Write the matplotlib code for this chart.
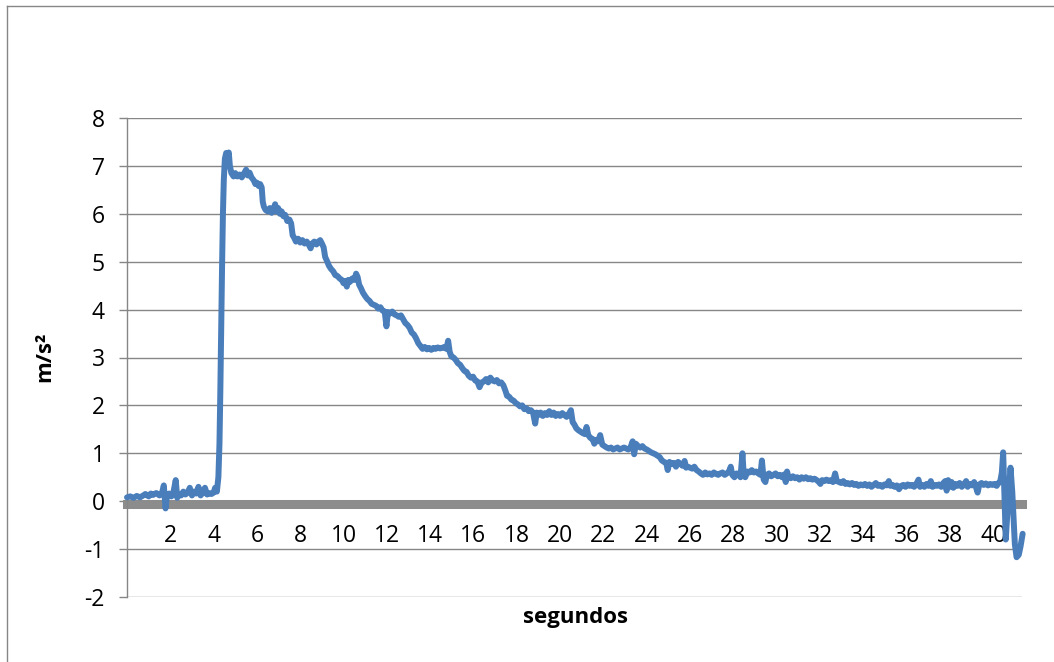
import matplotlib
matplotlib.use('Agg')
import matplotlib.pyplot as plt
from matplotlib.lines import Line2D

# tiempo (s) y aceleracion (m/s2)
tiempo = [
    0.00, 0.15, 0.30, 0.45, 0.60, 0.75, 0.85, 1.00, 1.10, 1.20, 1.35, 1.50, 1.62, 1.70, 1.78, 1.85,
    1.95, 2.05, 2.15, 2.25, 2.32, 2.40, 2.50, 2.60, 2.70, 2.80, 2.90, 3.00, 3.10, 3.20, 3.30, 3.40,
    3.50, 3.60, 3.70, 3.80, 3.90, 4.00, 4.07, 4.15,
    4.22, 4.27, 4.31, 4.35, 4.39, 4.43, 4.47, 4.52, 4.58, 4.65, 4.70, 4.75, 4.82, 4.92,
    5.00, 5.10, 5.20, 5.30, 5.40, 5.50, 5.58, 5.66, 5.75, 5.85, 5.93, 6.00, 6.08, 6.15, 6.22, 6.27,
    6.32, 6.40, 6.50, 6.60, 6.68, 6.76, 6.84, 6.90, 6.98, 7.06, 7.14, 7.22, 7.30, 7.40, 7.50, 7.58,
    7.65, 7.72, 7.80, 7.90, 8.00, 8.10, 8.20, 8.30, 8.40, 8.48, 8.55, 8.65, 8.75, 8.85, 8.92, 9.00,
    9.08, 9.15, 9.25, 9.32, 9.42, 9.52, 9.62, 9.72, 9.82, 9.92, 10.00, 10.08, 10.15, 10.22, 10.30,
    10.40, 10.50, 10.58, 10.65, 10.72, 10.80, 10.90, 11.00, 11.10, 11.20, 11.30, 11.40, 11.50,
    11.60, 11.70, 11.80, 11.90, 11.98, 12.05, 12.15, 12.25, 12.35, 12.45, 12.55, 12.65, 12.75,
    12.85, 12.95, 13.05, 13.15, 13.25, 13.35, 13.45, 13.55, 13.65, 13.75, 13.85, 13.95, 14.05,
    14.15, 14.25, 14.35, 14.45, 14.55, 14.65, 14.75, 14.83, 14.90, 14.98, 15.08, 15.18, 15.28,
    15.38, 15.48, 15.58, 15.68, 15.78, 15.88, 15.98, 16.08, 16.18, 16.28, 16.38, 16.48, 16.58,
    16.68, 16.78, 16.88, 16.98, 17.08, 17.18, 17.28, 17.38, 17.48, 17.55, 17.65, 17.75, 17.85,
    17.95, 18.05, 18.15, 18.25, 18.35, 18.45, 18.55, 18.65, 18.75, 18.85, 18.92, 19.00, 19.10,
    19.20, 19.30, 19.40, 19.50, 19.60, 19.70, 19.80, 19.90, 20.00, 20.10, 20.20, 20.30, 20.40,
    20.50, 20.58, 20.66, 20.75, 20.85, 20.95, 21.05, 21.15, 21.22, 21.30, 21.40, 21.50, 21.58,
    21.65, 21.75, 21.85, 21.95, 22.05, 22.15, 22.25, 22.35, 22.45, 22.55, 22.65, 22.75, 22.85,
    22.95, 23.05, 23.15, 23.25, 23.35, 23.42, 23.50, 23.60, 23.70, 23.80, 23.90, 24.00, 24.10,
    24.20, 24.30, 24.40, 24.50, 24.60, 24.70, 24.80, 24.90, 24.97, 25.05, 25.15, 25.25, 25.35,
    25.45, 25.55, 25.65, 25.75, 25.82, 25.90, 26.00, 26.10, 26.20, 26.30, 26.40, 26.50, 26.60,
    26.70, 26.80, 26.90, 27.00, 27.10, 27.20, 27.30, 27.40, 27.50, 27.60, 27.70, 27.80, 27.88,
    27.95, 28.05, 28.15, 28.25, 28.33, 28.42, 28.48, 28.55, 28.65, 28.75, 28.85, 28.95, 29.05,
    29.15, 29.25, 29.32, 29.40, 29.48, 29.55, 29.65, 29.75, 29.85, 29.95, 30.05, 30.15, 30.25,
    30.35, 30.42, 30.48, 30.55, 30.65, 30.75, 30.85, 30.95, 31.05, 31.15, 31.25, 31.35, 31.45,
    31.55, 31.65, 31.75, 31.85, 31.95, 32.02, 32.10, 32.20, 32.30, 32.40, 32.50, 32.60, 32.70,
    32.78, 32.88, 32.98, 33.08, 33.18, 33.28, 33.38, 33.48, 33.58, 33.68, 33.78, 33.88, 33.98,
    34.08, 34.18, 34.28, 34.38, 34.48, 34.58, 34.68, 34.78, 34.88, 34.98, 35.08, 35.18, 35.25,
    35.35, 35.45, 35.55, 35.65, 35.75, 35.85, 35.95, 36.05, 36.15, 36.25, 36.35, 36.45, 36.55,
    36.62, 36.72, 36.82, 36.92, 37.02, 37.12, 37.20, 37.30, 37.40, 37.50, 37.60, 37.70, 37.78,
    37.85, 37.92, 38.00, 38.08, 38.16, 38.25, 38.35, 38.45, 38.55, 38.65, 38.75, 38.82, 38.92,
    39.02, 39.12, 39.20, 39.28, 39.36, 39.46, 39.56, 39.66, 39.76, 39.86, 39.96, 40.06, 40.16,
    40.24, 40.32, 40.40, 40.46, 40.58, 40.66, 40.80, 40.88, 41.00, 41.08, 41.18, 41.26, 41.36,
]
aceleracion = [
    0.08, 0.10, 0.07, 0.11, 0.08, 0.12, 0.15, 0.10, 0.16, 0.13, 0.17, 0.12, 0.18, 0.33, -0.15, 0.12,
    0.16, 0.10, 0.20, 0.44, 0.07, 0.15, 0.12, 0.20, 0.14, 0.18, 0.28, 0.12, 0.20, 0.16, 0.30, 0.12,
    0.18, 0.28, 0.14, 0.17, 0.15, 0.18, 0.28, 0.20,
    0.50, 1.20, 2.30, 3.60, 4.90, 6.00, 6.70, 7.15, 7.27, 7.22, 7.28, 7.00, 6.85, 6.78,
    6.85, 6.78, 6.82, 6.76, 6.84, 6.92, 6.80, 6.86, 6.76, 6.70, 6.62, 6.65, 6.58, 6.62, 6.55, 6.25,
    6.15, 6.08, 6.05, 6.12, 6.02, 6.08, 6.20, 6.05, 6.12, 6.00, 6.05, 5.95, 5.98, 5.85, 5.88, 5.80,
    5.55, 5.50, 5.42, 5.48, 5.40, 5.45, 5.38, 5.42, 5.35, 5.28, 5.38, 5.42, 5.36, 5.42, 5.45, 5.38,
    5.30, 5.10, 5.00, 4.92, 4.85, 4.80, 4.72, 4.70, 4.65, 4.62, 4.55, 4.60, 4.48, 4.62, 4.58,
    4.65, 4.62, 4.75, 4.68, 4.52, 4.45, 4.35, 4.28, 4.22, 4.18, 4.12, 4.10, 4.08,
    4.02, 4.05, 3.98, 3.96, 3.65, 3.95, 3.92, 3.96, 3.90, 3.88, 3.85, 3.88, 3.80,
    3.72, 3.68, 3.62, 3.52, 3.48, 3.40, 3.30, 3.24, 3.18, 3.22, 3.17, 3.20, 3.16,
    3.20, 3.18, 3.21, 3.19, 3.20, 3.22, 3.18, 3.35, 3.12, 3.02, 3.00, 2.95, 2.88,
    2.85, 2.78, 2.72, 2.70, 2.62, 2.58, 2.60, 2.52, 2.50, 2.38, 2.48, 2.50, 2.55,
    2.48, 2.58, 2.52, 2.50, 2.53, 2.46, 2.48, 2.42, 2.30, 2.20, 2.18, 2.12, 2.10,
    2.05, 2.02, 1.98, 2.00, 1.92, 1.94, 1.88, 1.90, 1.85, 1.62, 1.85, 1.80, 1.85,
    1.78, 1.84, 1.80, 1.88, 1.80, 1.85, 1.78, 1.82, 1.78, 1.84, 1.80, 1.76, 1.82,
    1.90, 1.65, 1.60, 1.52, 1.48, 1.45, 1.42, 1.40, 1.55, 1.38, 1.32, 1.30, 1.20,
    1.28, 1.25, 1.38, 1.18, 1.15, 1.12, 1.10, 1.12, 1.08, 1.10, 1.12, 1.08, 1.10,
    1.12, 1.10, 1.08, 1.12, 1.25, 0.98, 1.20, 1.15, 1.12, 1.15, 1.10, 1.08, 1.05,
    1.02, 1.00, 0.98, 0.95, 0.92, 0.85, 0.82, 0.80, 0.65, 0.82, 0.78, 0.80, 0.72,
    0.82, 0.78, 0.74, 0.84, 0.70, 0.72, 0.70, 0.68, 0.72, 0.65, 0.62, 0.58, 0.55,
    0.60, 0.56, 0.58, 0.55, 0.60, 0.57, 0.55, 0.58, 0.60, 0.55, 0.58, 0.62, 0.72,
    0.55, 0.50, 0.58, 0.56, 0.50, 1.00, 0.55, 0.50, 0.62, 0.60, 0.65, 0.60, 0.62,
    0.58, 0.55, 0.85, 0.45, 0.40, 0.55, 0.58, 0.52, 0.55, 0.58, 0.52, 0.55, 0.50,
    0.56, 0.40, 0.62, 0.50, 0.48, 0.52, 0.48, 0.50, 0.45, 0.50, 0.47, 0.50, 0.46,
    0.48, 0.45, 0.47, 0.44, 0.40, 0.36, 0.44, 0.42, 0.45, 0.42, 0.44, 0.40, 0.58,
    0.42, 0.40, 0.38, 0.42, 0.36, 0.38, 0.35, 0.38, 0.34, 0.36, 0.32, 0.35, 0.33,
    0.36, 0.32, 0.35, 0.30, 0.34, 0.38, 0.32, 0.34, 0.30, 0.35, 0.33, 0.42, 0.32,
    0.34, 0.30, 0.33, 0.25, 0.32, 0.34, 0.30, 0.35, 0.32, 0.34, 0.30, 0.36, 0.45,
    0.30, 0.34, 0.30, 0.36, 0.32, 0.42, 0.30, 0.34, 0.32, 0.35, 0.30, 0.38, 0.42,
    0.22, 0.44, 0.30, 0.40, 0.28, 0.36, 0.32, 0.38, 0.30, 0.35, 0.42, 0.30, 0.36,
    0.33, 0.40, 0.30, 0.18, 0.35, 0.38, 0.34, 0.37, 0.33, 0.36, 0.34, 0.36, 0.32,
    0.38, 0.40, 0.60, 1.02, -0.80, -0.20, 0.70, 0.20, -0.90, -1.17, -1.12, -0.95, -0.68,
]

marcas_x = list(range(2, 41, 2))
marcas_y = list(range(-2, 9))

gris = '#868686'
azul = '#4A7EBB'

plt.rcParams['font.family'] = ['Open Sans', 'DejaVu Sans']

fig = plt.figure(figsize=(10.54, 6.62), dpi=100)
ax = fig.add_axes([127 / 1054, 1 - 597 / 662, (1022 - 127) / 1054, (597 - 118) / 662])

ax.set_xlim(0, 41.33)
ax.set_ylim(-2, 8)

# rejilla horizontal
for v in marcas_y:
    ax.axhline(v, color=gris, lw=1.0, zorder=1)

ax.plot(tiempo, aceleracion, color=azul, lw=4.3, solid_joinstyle='round',
        solid_capstyle='round', zorder=3, clip_on=False)

# eje x grueso en cero
ax.spines['bottom'].set_position(('data', -0.06))
ax.spines['bottom'].set_color('#8C8C8C')
ax.spines['bottom'].set_linewidth(6.5)
ax.spines['bottom'].set_zorder(2)
ax.spines['top'].set_visible(False)
ax.spines['right'].set_visible(False)
ax.spines['left'].set_color(gris)
ax.spines['left'].set_linewidth(1.0)

ax.set_xticks(marcas_x)
ax.set_xticklabels([str(v) for v in marcas_x])
ax.set_yticks(marcas_y)
ax.set_yticklabels([str(v) for v in marcas_y])
ax.tick_params(axis='x', length=0, pad=14, labelsize=16.5)
ax.tick_params(axis='y', length=6, width=1.0, color=gris, pad=10, labelsize=16.5)

fig.text(45 / 1054, 1 - 357 / 662, 'm/s²', rotation=90, ha='center', va='center',
         fontsize=16, fontweight='bold')
fig.text(575 / 1054, 1 - 617 / 662, 'segundos', ha='center', va='center',
         fontsize=16, fontweight='bold')

# borde del area del grafico
fig.add_artist(Line2D([7 / 1054, 7 / 1054], [0, 1 - 6 / 662], color=gris, lw=1.0))
fig.add_artist(Line2D([7 / 1054, 1], [1 - 6 / 662, 1 - 6 / 662], color=gris, lw=1.0))

fig.savefig('out.png', dpi=100)
